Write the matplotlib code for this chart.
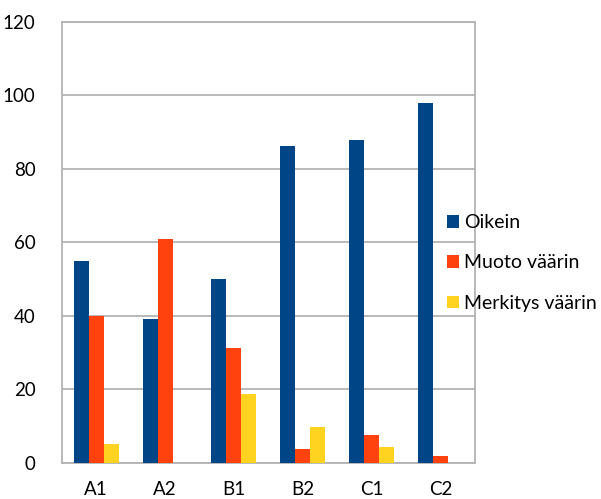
import matplotlib.pyplot as plt
import numpy as np

categories = ['A1', 'A2', 'B1', 'B2', 'C1', 'C2']
oikein = [55, 39, 50, 86.3, 87.8, 98]
muoto = [40, 61, 31.2, 3.7, 7.6, 1.8]
merkitys = [5, 0, 18.8, 9.6, 4.3, 0]
series_names = ['Oikein', 'Muoto väärin', 'Merkitys väärin']
colors = ['#004586', '#ff420e', '#ffd320']

plt.rcParams['font.family'] = ['Lato', 'DejaVu Sans']

fig = plt.figure(figsize=(6.01, 4.99), dpi=100)
ax = fig.add_axes([0.103, 0.073, 0.687, 0.883])

x = np.arange(len(categories))
w = 0.218
for i, (vals, name, c) in enumerate(zip([oikein, muoto, merkitys], series_names, colors)):
    ax.bar(x + (i - 1) * w, vals, w, color=c, label=name, zorder=3)

ax.set_xlim(-0.5, len(categories) - 0.5)
ax.set_ylim(0, 120)
ax.set_yticks(range(0, 121, 20))
ax.set_xticks(x)
ax.set_xticklabels(categories)
ax.yaxis.grid(True, color='#b3b3b3', lw=1.3, zorder=0)
for s in ax.spines.values():
    s.set_color('#b3b3b3')
    s.set_linewidth(1.3)
ax.tick_params(length=0, labelsize=13.5, colors='#000000')
ax.tick_params(axis='y', pad=19)
ax.tick_params(axis='x', pad=13)

ax.legend(loc='center left', bbox_to_anchor=(0.743, 0.473), bbox_transform=fig.transFigure,
          frameon=False, fontsize=14, handlelength=0.62, handleheight=0.62,
          handletextpad=0.3, labelspacing=1.2, borderaxespad=0, borderpad=0)

fig.savefig('out.png', dpi=100)
